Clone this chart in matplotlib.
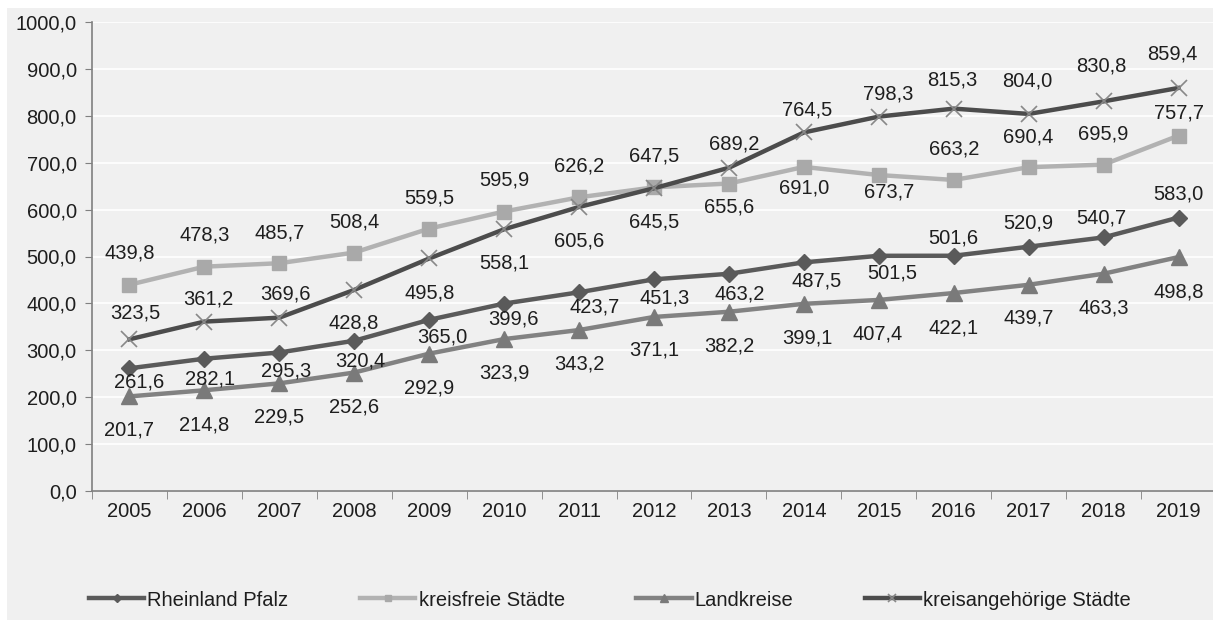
import matplotlib.pyplot as plt
from matplotlib.patches import Rectangle
from matplotlib.ticker import MultipleLocator, FuncFormatter

plt.rcParams['font.family'] = ['Liberation Sans', 'DejaVu Sans']

years = ['2005', '2006', '2007', '2008', '2009', '2010', '2011', '2012',
         '2013', '2014', '2015', '2016', '2017', '2018', '2019']

rheinland_pfalz = [261.6, 282.1, 295.3, 320.4, 365.0, 399.6, 423.7, 451.3,
                   463.2, 487.5, 501.5, 501.6, 520.9, 540.7, 583.0]
kreisfreie = [439.8, 478.3, 485.7, 508.4, 559.5, 595.9, 626.2, 647.5,
              655.6, 691.0, 673.7, 663.2, 690.4, 695.9, 757.7]
landkreise = [201.7, 214.8, 229.5, 252.6, 292.9, 323.9, 343.2, 371.1,
              382.2, 399.1, 407.4, 422.1, 439.7, 463.3, 498.8]
kreisangehoerige = [323.5, 361.2, 369.6, 428.8, 495.8, 558.1, 605.6, 645.5,
                    689.2, 764.5, 798.3, 815.3, 804.0, 830.8, 859.4]

# label offsets in pixels (dx right, dy down)
off_rp = [(10, 14), (6, 20), (7, 18), (6, 20), (13, 17), (9, 15), (16, 15), (11, 19),
          (11, 20), (13, 19), (13, 17), (0, -18), (0, -24), (-2, -19), (0, -24)]
off_kf = [(0, -32), (0, -32), (0, -30), (0, -31), (0, -31), (0, -32), (0, -31), (0, -31),
          (0, 23), (0, 21), (10, 17), (0, -31), (0, -30), (0, -31), (0, -23)]
off_lk = [(0, 34), (0, 35), (0, 34), (0, 34), (0, 34), (0, 34), (0, 34), (0, 33),
          (0, 34), (4, 34), (-1, 34), (0, 35), (0, 33), (0, 34), (0, 35)]
off_ka = [(6, -26), (4, -23), (6, -24), (-1, 33), (0, 35), (0, 34), (0, 34), (0, 34),
          (5, -24), (3, -22), (9, -23), (-1, -29), (-1, -33), (-2, -35), (-6, -34)]

series = [
    ('Rheinland Pfalz', rheinland_pfalz, off_rp,
     dict(color='#5a5a5a', marker='D', markersize=8.5, mfc='#5a5a5a', mec='#5a5a5a')),
    ('kreisfreie Städte', kreisfreie, off_kf,
     dict(color='#b2b2b2', marker='s', markersize=10, mfc='#a9a9a9', mec='#a9a9a9')),
    ('Landkreise', landkreise, off_lk,
     dict(color='#828282', marker='^', markersize=11, mfc='#7a7a7a', mec='#7a7a7a')),
    ('kreisangehörige Städte', kreisangehoerige, off_ka,
     dict(color='#4c4c4c', marker='x', markersize=11, mfc='none', mec='#888888', mew=1.2)),
]

FS = 14.5
TXT = '#1e1e1e'

fig = plt.figure(figsize=(12.13, 6.2), dpi=100, facecolor='white')
fig.patches.append(Rectangle((7 / 1213, 0), 1, 612 / 620, transform=fig.transFigure,
                             facecolor='#f0f0f0', edgecolor='none', zorder=-10))

ax = fig.add_axes([92 / 1213, 129 / 620, 1124 / 1213, 469 / 620])
ax.set_facecolor('#f0f0f0')

x = list(range(len(years)))
for name, vals, offs, style in series:
    ax.plot(x, vals, lw=3.2, label=name, clip_on=False, **style)
    for xi, v, (dx, dy) in zip(x, vals, offs):
        ax.annotate(f'{v:.1f}'.replace('.', ','), (xi, v), xytext=(dx, -dy),
                    textcoords='offset pixels', ha='center', va='center',
                    fontsize=FS, color=TXT)

ax.set_xlim(-0.5, len(years) - 0.5)
ax.set_ylim(0, 1000)
ax.yaxis.set_major_locator(MultipleLocator(100))
ax.yaxis.set_major_formatter(FuncFormatter(lambda v, p: f'{v:.1f}'.replace('.', ',')))
ax.grid(axis='y', color='white', lw=1.2)
ax.set_axisbelow(True)

ax.set_xticks(x)
ax.set_xticklabels(years)
ax.set_xticks([i - 0.5 for i in range(len(years) + 1)], minor=True)
ax.tick_params(axis='x', which='major', length=0, pad=8, labelsize=FS, colors=TXT)
ax.tick_params(axis='x', which='minor', length=6, color='#808080', direction='out')
ax.tick_params(axis='y', length=5, color='#808080', labelsize=FS, pad=6, labelcolor=TXT)

for s in ['top', 'right']:
    ax.spines[s].set_visible(False)
for s in ['left', 'bottom']:
    ax.spines[s].set_color('#808080')
    ax.spines[s].set_linewidth(1.2)

handles, labels = ax.get_legend_handles_labels()
leg = fig.legend(handles, labels, loc='center', bbox_to_anchor=(610 / 1213, 20 / 620), ncol=4,
                 frameon=False, fontsize=FS, handlelength=2.75, handletextpad=0.15,
                 columnspacing=3.55, markerscale=0.5, borderpad=0)
for t in leg.get_texts():
    t.set_color(TXT)

fig.savefig('out.png', dpi=100, facecolor=fig.get_facecolor())
